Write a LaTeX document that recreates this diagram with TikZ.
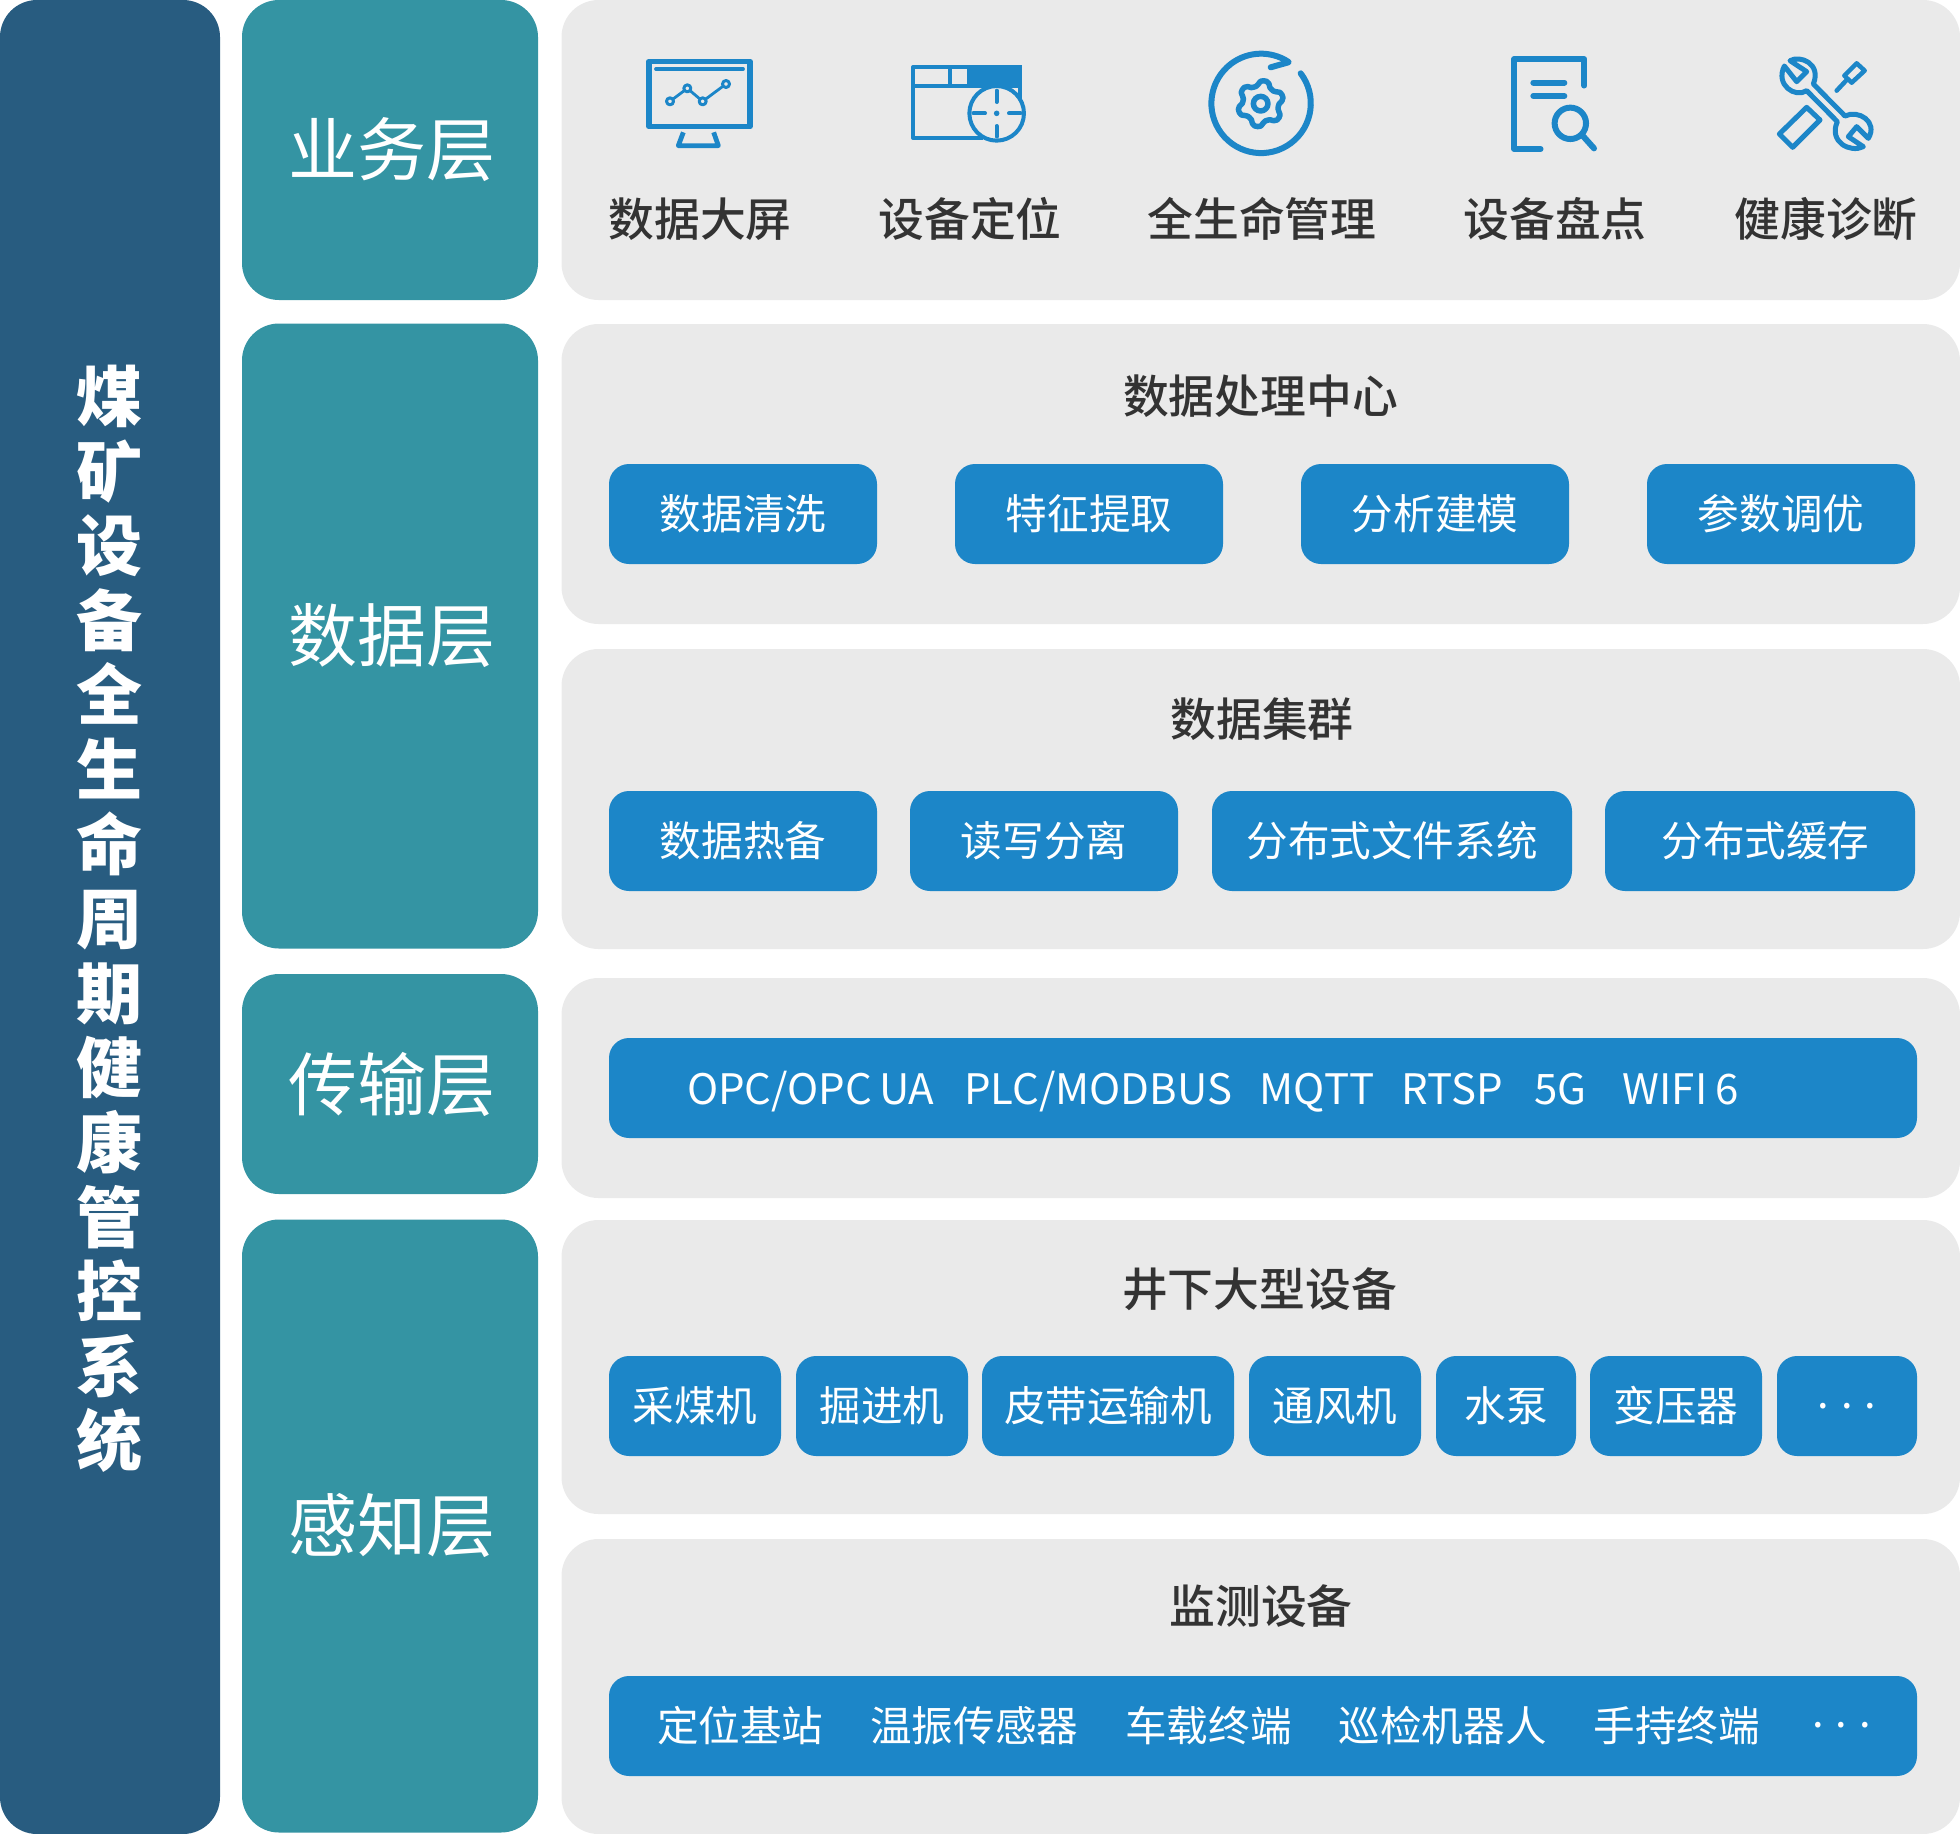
\documentclass[tikz,border=0pt]{standalone}
\usepackage{fontspec}
\setmainfont{Noto Sans CJK SC}
\newfontfamily\medfont{Noto Sans CJK SC Medium}
\usetikzlibrary{positioning}

\definecolor{barblue}{HTML}{285C80}
\definecolor{layerteal}{HTML}{3494A3}
\definecolor{panelgrey}{HTML}{EAEAEA}
\definecolor{boxblue}{HTML}{1C86C8}
\definecolor{titlegrey}{HTML}{333333}

\begin{document}
\begin{tikzpicture}[
            x = 1pt, y = -1pt, % reference pixels, y downwards
            inner sep = 0pt,
            bar/.style = {fill = barblue, rounded corners = 37pt, text = white, align = center},
            layer/.style = {fill = layerteal, rounded corners = 37pt, text = white,
                minimum width = 296pt, font = \fontsize{69}{72}\selectfont},
            panel/.style = {fill = panelgrey, rounded corners = 37pt, minimum width = 1398.5pt},
            tag/.style = {fill = boxblue, rounded corners = 20pt, text = white,
                minimum height = 100pt, font = \fontsize{41.6}{46}\selectfont},
            wide/.style = {tag, minimum width = 1308pt, text width = 1308pt, align = left},
            title/.style = {text = titlegrey, font = \fontsize{45.8}{50}\medfont},
            icon/.style = {draw = boxblue, line width = 5pt, line join = round},
            zoomed/.style = {x = 0.33333pt, y = -0.33333pt}
        ]
        \useasboundingbox (0,0) rectangle (1960,1834);

        % left bar
        \node[bar, minimum width=220pt, minimum height=1834pt] (sys) at (110,917) {};
        \node[text=white, align=center, font=\fontsize{66}{74.6}\bfseries] (systext) at (109,919)
            {煤\\矿\\设\\备\\全\\生\\命\\周\\期\\健\\康\\管\\控\\系\\统};

        % layers
        \node[layer, minimum height=300pt] (l1) at (390,150)  {\hspace*{3pt}\raisebox{-2pt}{业务层}};
        \node[layer, minimum height=625pt] (l2) at (390,636)  {\hspace*{3pt}数据层};
        \node[layer, minimum height=220pt] (l3) at (390,1084) {\hspace*{3pt}传输层};
        \node[layer, minimum height=613pt] (l4) at (390,1526) {\hspace*{3pt}感知层};

        % panels
        \node[panel, minimum height=300pt] (p1) at (1260.75,150)  {};
        \node[panel, minimum height=300pt] (p2) at (1260.75,474)  {};
        \node[panel, minimum height=300pt] (p3) at (1260.75,799)  {};
        \node[panel, minimum height=220pt] (p4) at (1260.75,1088) {};
        \node[panel, minimum height=294pt] (p5) at (1260.75,1367) {};
        \node[panel, minimum height=295pt] (p6) at (1260.75,1686.5) {};

        % business labels
        \node[title] (b1) at (700,219)  {数据大屏};
        \node[title] (b2) at (970,219)  {设备定位};
        \node[title] (b3) at (1262,219) {全生命管理};
        \node[title] (b4) at (1555,219) {设备盘点};
        \node[title] (b5) at (1826,219) {健康诊断};

        % data processing
        \node[title] (t1) at (1260.5,396) {数据处理中心};
        \node[tag, minimum width=268pt] (d1) at (743,514)    {数据清洗};
        \node[tag, minimum width=268pt] (d2) at (1089,514)   {特征提取};
        \node[tag, minimum width=268pt] (d3) at (1435,514)   {分析建模};
        \node[tag, minimum width=268pt] (d4) at (1781,514)   {参数调优};

        % data cluster
        \node[title] (t2) at (1262,719) {数据集群};
        \node[tag, minimum width=268pt] (c1) at (743,841)    {数据热备};
        \node[tag, minimum width=268pt] (c2) at (1044,841)   {读写分离};
        \node[tag, minimum width=360pt] (c3) at (1392,841)   {分布式文件系统};
        \node[tag, minimum width=310pt] (c4) at (1760,841)   {\hspace*{11pt}分布式缓存};

        % transport
        \node[wide, font=\fontsize{42}{46}\selectfont] (n1) at (1263,1088) {\rule[-19.4pt]{0pt}{72pt}\hspace*{78pt}OPC/OPC\hspace{7pt}UA\hspace{30pt}PLC/MODBUS\hspace{27.7pt}MQTT\hspace{27.5pt}RTSP\hspace{31.2pt}5G\hspace{36.5pt}WIFI\hspace{8pt}6};

        % underground equipment
        \node[title] (t3) at (1259.5,1289) {井下大型设备};
        \node[tag, minimum width=172pt] (e1) at (695,1406)    {采煤机};
        \node[tag, minimum width=172pt] (e2) at (882,1406)    {掘进机};
        \node[tag, minimum width=252pt] (e3) at (1108,1406)   {皮带运输机};
        \node[tag, minimum width=172pt] (e4) at (1335,1406)   {通风机};
        \node[tag, minimum width=140pt] (e5) at (1506,1406)   {水泵};
        \node[tag, minimum width=172pt] (e6) at (1676,1406)   {变压器};
        \node[tag, minimum width=140pt] (e7) at (1847,1406)   {.\hspace{12pt}.\hspace{12pt}.};

        % monitoring
        \node[title] (t4) at (1261,1606) {监测设备};
        \node[wide] (m1) at (1263,1726) {\rule[-20pt]{0pt}{71.6pt}\hspace*{48pt}定位基站\hspace{47pt}温振传感器\hspace{47pt}车载终端\hspace{47pt}巡检机器人\hspace{47pt}手持终端\hspace{52pt}\raisebox{14pt}{.\hspace{12pt}.\hspace{12pt}.}};

        % screen icon
        \begin{scope}[xshift=600pt, yshift=-30pt, zoomed]
            \draw[icon, line width=5.5pt] (147,94) rectangle (450,290);
            \draw[icon, line width=3.8pt, line cap=round] (168,117) -- (429,117);
            \draw[icon, line width=2.8pt] (210,214) -- (262,175) -- (308,214) -- (378,162);
            \foreach \cx/\cy in {210/214, 262/175, 308/214, 378/162}
                \draw[icon, line width=3pt, fill=panelgrey] (\cx,\cy) circle (3.5pt);
            \draw[icon, line width=4.8pt] (250,307) -- (235,347) -- (355,347) -- (341,307);
        \end{scope}

        % locate icon
        \begin{scope}[xshift=600pt, yshift=-30pt, zoomed]
            \draw[icon, line width=4pt] (1259,210) -- (1259,111) -- (939,111) -- (939,324) -- (1150,324);
            \fill[boxblue] (1100,105) rectangle (1265,172);
            \fill[boxblue] (1043,105) rectangle (1057,172);
            \fill[boxblue] (933,162) rectangle (1100,175);
            \fill[boxblue] (1100,172) rectangle (1265,175);
            \draw[icon, line width=4pt, fill=panelgrey] (1190,250) circle (27.3pt);
            \draw[icon, line width=4pt, line cap=round] (1190,182) -- (1190,216);
            \draw[icon, line width=4pt, line cap=round] (1190,288) -- (1190,320);
            \draw[icon, line width=4pt, line cap=round] (1120,250) -- (1155,250);
            \draw[icon, line width=4pt, line cap=round] (1227,250) -- (1262,250);
            \fill[boxblue] (1190,250) circle (2.8pt);
        \end{scope}

        % lifecycle icon
        \begin{scope}[xshift=1150pt, yshift=-30pt, zoomed]
            \draw[icon, line width=6pt, line cap=round] (452,130) arc[start angle=37.2, end angle=-303.4, radius=49.7pt];
            \draw[icon, line width=6pt, line cap=round] (415,97) -- (362,112);
            \draw[icon, line width=5.5pt] plot[smooth cycle, samples=48, domain=0:352.5]
                ({332+3*(20.5+2.6*max(-1,min(1,1.5*cos(6*(\x-20)))))*cos(\x)}, {221-3*(20.5+2.6*max(-1,min(1,1.5*cos(6*(\x-20)))))*sin(\x)});
            \draw[icon, line width=5.5pt] (332,221) circle (7.3pt);
        \end{scope}

        % inventory icon
        \begin{scope}[xshift=1150pt, yshift=-30pt, zoomed]
            \draw[icon, line width=5.7pt, line cap=round] (1303,167) -- (1303,87) -- (1092,87) -- (1092,357) -- (1172,357);
            \draw[icon, line width=6pt, line cap=round] (1150,158) -- (1243,158);
            \draw[icon, line width=6pt, line cap=round] (1150,198) -- (1243,198);
            \draw[icon, line width=6pt] (1261,280) circle (15.7pt);
            \draw[icon, line width=6pt, line cap=round] (1298,317) -- (1332,355);
        \end{scope}

        % tools icon
        \begin{scope}[xshift=1700pt, yshift=-30pt, zoomed]
            \draw[icon] (320,232) -- (360,270) -- (278,352) -- (238,312) -- cycle;
            \draw[icon, line width=4.5pt] (470,100) -- (494,122) -- (455,158) -- (433,137) -- cycle;
            \draw[icon, line width=4.5pt, line cap=round] (438,152) -- (410,182);
            \draw[icon] (270,92) .. controls (300,75) and (365,100) .. (340,162)
                -- (435,258) .. controls (475,238) and (535,275) .. (505,325)
                -- (470,290) -- (445,320) -- (490,350)
                .. controls (450,370) and (385,335) .. (412,275)
                -- (320,182) .. controls (285,205) and (225,165) .. (253,108)
                -- (290,155) -- (320,125) -- cycle;
        \end{scope}
    \end{tikzpicture}
\end{document}
